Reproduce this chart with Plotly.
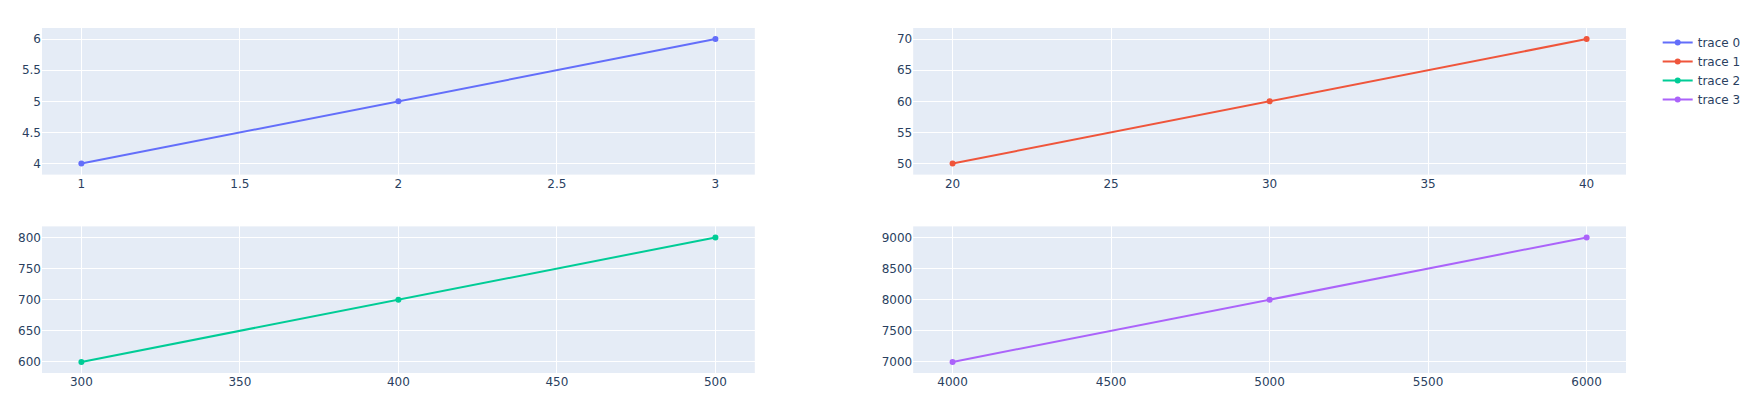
import plotly.graph_objects as go
from plotly.subplots import make_subplots

x0 = [1, 2, 3]
y0 = [4, 5, 6]
x1 = [20, 30, 40]
y1 = [50, 60, 70]
x2 = [300, 400, 500]
y2 = [600, 700, 800]
x3 = [4000, 5000, 6000]
y3 = [7000, 8000, 9000]

fig = make_subplots(rows=2, cols=2)
fig.add_trace(go.Scatter(x=x0, y=y0), row=1, col=1)
fig.add_trace(go.Scatter(x=x1, y=y1), row=1, col=2)
fig.add_trace(go.Scatter(x=x2, y=y2), row=2, col=1)
fig.add_trace(go.Scatter(x=x3, y=y3), row=2, col=2)

fig.update_layout(
    margin=dict(l=34, r=122, t=20, b=37, autoexpand=False),
    font=dict(family="DejaVu Sans"),
)
fig.write_html("out.html")
